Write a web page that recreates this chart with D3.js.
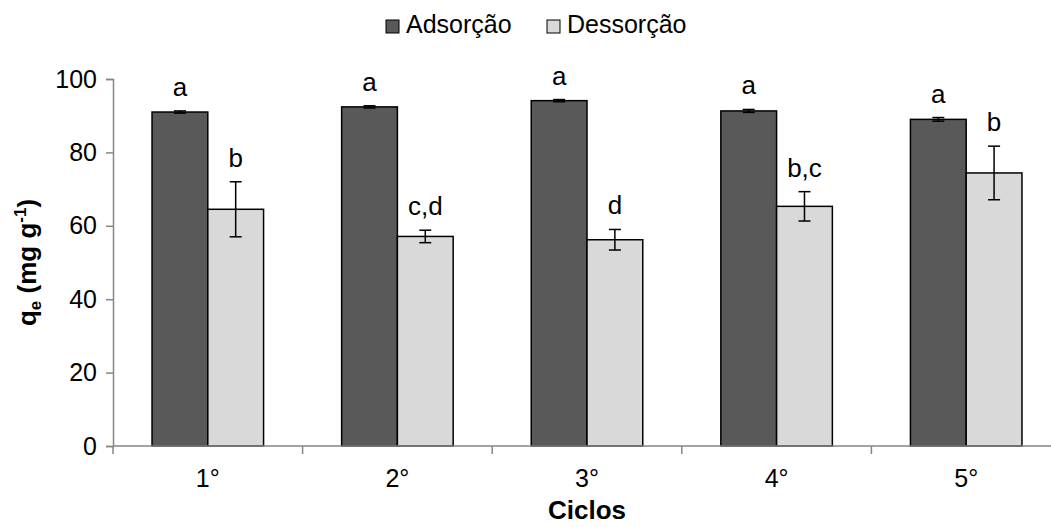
<!DOCTYPE html>
<html>
<head>
<meta charset="utf-8">
<script src="https://cdn.jsdelivr.net/npm/d3@7"></script>
<style>
  body { margin: 0; background: #fff; }
  svg { display: block; font-family: 'Liberation Sans', Arial, sans-serif; }
</style>
</head>
<body>
<svg width="1051" height="527"></svg>
<script>
const ciclos = ['1°', '2°', '3°', '4°', '5°']
const series = ['Adsorção', 'Dessorção']
const adsorcao = [91.0, 92.4, 94.1, 91.3, 89.0]
const adsorcaoErr = [0.3, 0.3, 0.3, 0.4, 0.5]
const dessorcao = [64.5, 57.1, 56.2, 65.3, 74.4]
const dessorcaoErr = [7.5, 1.7, 2.8, 4.0, 7.3]
const adsLetters = ['a', 'a', 'a', 'a', 'a']
const desLetters = ['b', 'c,d', 'd', 'b,c', 'b']
const yTicks = [0, 20, 40, 60, 80, 100]

const colors = { 'Adsorção': '#595959', 'Dessorção': '#d9d9d9' }

const svg = d3.select('svg')
const plotLeft = 113
const plotRight = 1061
const plotTop = 79
const plotBottom = 446

const x = d3.scaleBand().domain(ciclos).range([plotLeft, plotRight])
const xs = d3.scaleBand().domain(series).range([0, x.bandwidth()]).paddingOuter(0.7)
const y = d3.scaleLinear().domain([0, 100]).range([plotBottom, plotTop])

// one row per bar
const rows = ciclos.flatMap((c, i) => [
  { c, s: 'Adsorção', v: adsorcao[i], e: adsorcaoErr[i], l: adsLetters[i] },
  { c, s: 'Dessorção', v: dessorcao[i], e: dessorcaoErr[i], l: desLetters[i] },
])

// y axis
const yAxis = svg.append('g')
  .attr('transform', `translate(${plotLeft},0)`)
  .call(d3.axisLeft(y).tickValues(yTicks).tickSize(7).tickPadding(9))
yAxis.select('.domain').attr('stroke', '#868686').attr('stroke-width', 1.5)
yAxis.selectAll('.tick line').attr('stroke', '#868686').attr('stroke-width', 1.5)
yAxis.selectAll('.tick text').attr('font-size', 25).attr('fill', '#000').attr('font-family', null)

// bars
svg.append('g').selectAll('rect')
  .data(rows)
  .join('rect')
  .attr('x', (d) => x(d.c) + xs(d.s))
  .attr('y', (d) => y(d.v))
  .attr('width', xs.bandwidth())
  .attr('height', (d) => y(0) - y(d.v))
  .attr('fill', (d) => colors[d.s])
  .attr('stroke', '#000')
  .attr('stroke-width', 1.5)

// x axis
const xAxisG = svg.append('g').attr('transform', `translate(0,${plotBottom})`)
xAxisG.append('line')
  .attr('x1', plotLeft).attr('x2', plotRight)
  .attr('stroke', '#868686').attr('stroke-width', 1.5)
const bounds = d3.range(ciclos.length + 1).map((i) => plotLeft + i * x.step())
xAxisG.selectAll('line.tk')
  .data(bounds)
  .join('line')
  .attr('class', 'tk')
  .attr('x1', (d) => d).attr('x2', (d) => d)
  .attr('y1', 0).attr('y2', 8)
  .attr('stroke', '#868686').attr('stroke-width', 1.5)
xAxisG.selectAll('text')
  .data(ciclos)
  .join('text')
  .attr('x', (d) => x(d) + x.bandwidth() / 2)
  .attr('y', 41)
  .attr('text-anchor', 'middle')
  .attr('font-size', 25)
  .text((d) => d)

// error bars
const err = svg.append('g').attr('stroke', '#000').attr('stroke-width', 1.5)
rows.forEach((d) => {
  const cx = x(d.c) + xs(d.s) + xs.bandwidth() / 2
  err.append('line').attr('x1', cx).attr('x2', cx).attr('y1', y(d.v + d.e)).attr('y2', y(d.v - d.e))
  err.append('line').attr('x1', cx - 6).attr('x2', cx + 6).attr('y1', y(d.v + d.e)).attr('y2', y(d.v + d.e))
  err.append('line').attr('x1', cx - 6).attr('x2', cx + 6).attr('y1', y(d.v - d.e)).attr('y2', y(d.v - d.e))
})

// significance letters
svg.append('g').selectAll('text')
  .data(rows)
  .join('text')
  .attr('x', (d) => x(d.c) + xs(d.s) + xs.bandwidth() / 2)
  .attr('y', (d) => y(d.v + d.e) - 15)
  .attr('text-anchor', 'middle')
  .attr('font-size', 26)
  .text((d) => d.l)

// axis titles
svg.append('text')
  .attr('x', x('3°') + x.bandwidth() / 2)
  .attr('y', 519)
  .attr('text-anchor', 'middle')
  .attr('font-size', 26)
  .attr('font-weight', 'bold')
  .text('Ciclos')

const yTitle = svg.append('text')
  .attr('transform', `translate(36,${(plotTop + plotBottom) / 2}) rotate(-90)`)
  .attr('text-anchor', 'middle')
  .attr('font-size', 26)
  .attr('font-weight', 'bold')
yTitle.append('tspan').text('q')
yTitle.append('tspan').attr('font-size', 17).attr('dy', 5).text('e')
yTitle.append('tspan').attr('dy', -5).text(' (mg g')
yTitle.append('tspan').attr('font-size', 17).attr('dy', -10).text('-1')
yTitle.append('tspan').attr('dy', 10).text(')')

// legend
const legendX = [386, 547]
const legend = svg.append('g').selectAll('g')
  .data(series)
  .join('g')
  .attr('transform', (d, i) => `translate(${legendX[i]},0)`)
legend.append('rect')
  .attr('x', 0).attr('y', 20)
  .attr('width', 13).attr('height', 13)
  .attr('fill', (d) => colors[d])
  .attr('stroke', '#000').attr('stroke-width', 1)
legend.append('text')
  .attr('x', 20).attr('y', 33)
  .attr('font-size', 25)
  .text((d) => d)
</script>
</body>
</html>
